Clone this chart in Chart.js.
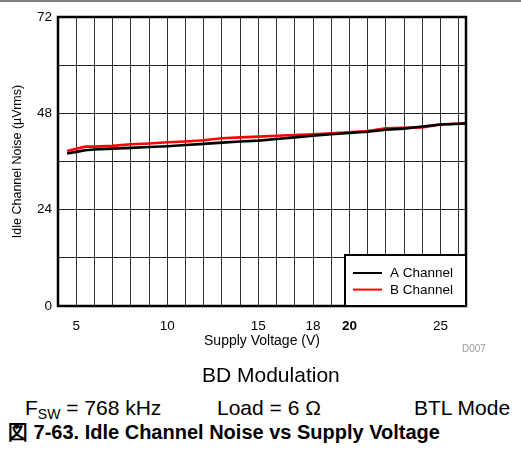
<!DOCTYPE html>
<html>
<head>
<meta charset="utf-8">
<script src="https://cdn.jsdelivr.net/npm/chart.js@4.4.1/dist/chart.umd.min.js"></script>
<style>
  html, body { margin: 0; padding: 0; background: #fff; }
  body { width: 521px; height: 460px; position: relative; overflow: hidden;
         font-family: "Liberation Sans", Arial, Helvetica, sans-serif; color: #000; }
  #topRule { position: absolute; left: 0; top: 0; width: 521px; height: 2px; background: #808080; }
  #plot { position: absolute; left: 0; top: 0; width: 521px; height: 355px; }
  .note { position: absolute; white-space: nowrap; line-height: 1; }
  #code { left: 462px; top: 344px; font-size: 10px; color: #9a9a9a; }
  #mod { left: 202px; top: 364px; font-size: 21px; }
  #fsw { left: 25px; top: 396.5px; font-size: 21px; }
  #fsw sub { font-size: 14px; vertical-align: -4px; line-height: 0; }
  #load { left: 217px; top: 396.5px; font-size: 21px; }
  #btl { left: 414px; top: 396.5px; font-size: 21px; }
  #caption { left: 8px; top: 421.5px; font-size: 20px; font-weight: bold; }
</style>
</head>
<body>
<div id="topRule"></div>
<div id="plot"><canvas id="noiseChart"></canvas></div>
<div class="note" id="code">D007</div>
<div class="note" id="mod">BD Modulation</div>
<div class="note" id="fsw">F<sub>SW</sub> = 768 kHz</div>
<div class="note" id="load">Load = 6 Ω</div>
<div class="note" id="btl">BTL Mode</div>
<div class="note" id="caption">図 7-63. Idle Channel Noise vs Supply Voltage</div>

<script>
// supply voltage (V) and idle channel noise (µVrms) per channel
const voltage  = [4.5, 5, 5.5, 6, 7, 8, 9, 10, 11, 12, 13, 14, 15, 16, 17, 18, 19, 20, 21, 22, 23, 24, 25, 26, 26.4];
const channelA = [38.0, 38.4, 38.8, 39.0, 39.2, 39.4, 39.6, 39.8, 40.1, 40.4, 40.7, 41.0, 41.2, 41.6, 42.0, 42.4, 42.8, 43.1, 43.4, 43.9, 44.2, 44.7, 45.2, 45.4, 45.5];
const channelB = [38.6, 39.2, 39.7, 39.7, 39.9, 40.3, 40.5, 40.8, 41.0, 41.3, 41.8, 42.0, 42.2, 42.4, 42.6, 42.8, 43.0, 43.3, 43.6, 44.3, 44.4, 44.5, 45.2, 45.4, 45.5];

const xTickLabels = [5, 10, 15, 18, 20, 25];
const yTickLabels = [0, 24, 48, 72];

const FONT = '"Liberation Sans", Arial, Helvetica, sans-serif';

const points = (ys) => voltage.map((v, i) => ({ x: v, y: ys[i] }));

// heavy frame around the plotting area
const plotFrame = {
  id: 'plotFrame',
  afterDatasetsDraw(chart) {
    const { ctx, chartArea: a } = chart;
    ctx.save();
    ctx.lineWidth = 2.5;
    ctx.strokeStyle = '#000';
    ctx.strokeRect(a.left, a.top, a.right - a.left, a.bottom - a.top);
    ctx.restore();
  }
};

// boxed legend in the lower right corner
const legendBox = {
  id: 'legendBox',
  afterDraw(chart) {
    const { ctx, chartArea: a } = chart;
    const w = 121, h = 51;
    const x = a.right - w, y = a.bottom - h;
    ctx.save();
    ctx.fillStyle = '#fff';
    ctx.fillRect(x, y, w, h);
    ctx.lineWidth = 2;
    ctx.strokeStyle = '#000';
    ctx.strokeRect(x, y, w, h);
    ctx.font = '13.5px ' + FONT;
    ctx.textBaseline = 'middle';
    chart.data.datasets.forEach((ds, i) => {
      const ly = y + 18 + i * 16.6;
      ctx.strokeStyle = ds.borderColor;
      ctx.lineWidth = 2;
      ctx.beginPath();
      ctx.moveTo(x + 8, ly);
      ctx.lineTo(x + 37, ly);
      ctx.stroke();
      ctx.fillStyle = '#000';
      ctx.fillText(ds.label, x + 45, ly + 0.5);
    });
    ctx.restore();
  }
};

new Chart(document.getElementById('noiseChart'), {
  type: 'line',
  data: {
    datasets: [{
      label: 'A Channel',
      data: points(channelA),
      borderColor: '#000000',
      borderWidth: 2.6,
      pointRadius: 0,
      tension: 0
    }, {
      label: 'B Channel',
      data: points(channelB),
      borderColor: '#ff0000',
      borderWidth: 2.6,
      pointRadius: 0,
      tension: 0
    }]
  },
  options: {
    responsive: true,
    maintainAspectRatio: false,
    animation: false,
    layout: { padding: { left: 0, top: 17, right: 55, bottom: 0 } },
    plugins: {
      legend: { display: false },
      tooltip: { enabled: false }
    },
    scales: {
      x: {
        type: 'linear',
        min: 4,
        max: 26.4,
        afterBuildTicks: (scale) => {
          const ticks = [];
          for (let v = 4; v <= 26; v++) ticks.push({ value: v });
          scale.ticks = ticks;
        },
        afterFit: (scale) => { scale.height = 49; },
        grid: { color: '#333', lineWidth: 1, drawTicks: false },
        border: { display: false },
        ticks: {
          autoSkip: false,
          maxRotation: 0,
          padding: 12,
          color: '#000',
          font: (c) => ({ family: FONT, size: 13.5, weight: c.tick && c.tick.value === 20 ? 'bold' : 'normal' }),
          callback: (v) => xTickLabels.includes(v) ? String(v) : ''
        },
        title: {
          display: true,
          text: 'Supply Voltage (V)',
          color: '#000',
          font: { family: FONT, size: 14 },
          padding: { top: 0, bottom: 5 }
        }
      },
      y: {
        min: 0,
        max: 72,
        afterFit: (scale) => { scale.width = 58; },
        grid: { color: '#222', lineWidth: 1, drawTicks: false },
        border: { display: false },
        ticks: {
          stepSize: 12,
          padding: 6,
          color: '#000',
          font: { family: FONT, size: 13.5 },
          callback: (v) => yTickLabels.includes(v) ? String(v) : ''
        },
        title: {
          display: true,
          text: 'Idle Channel Noise (µVrms)',
          color: '#000',
          font: { family: FONT, size: 12.5 },
          padding: { top: 10, bottom: 0 }
        }
      }
    }
  },
  plugins: [plotFrame, legendBox]
});
</script>
</body>
</html>
